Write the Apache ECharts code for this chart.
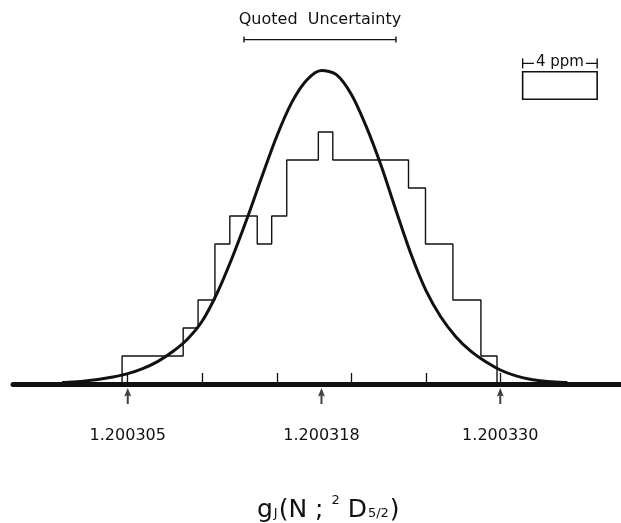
<!DOCTYPE html>
<html>
<head>
<meta charset="utf-8">
<script src="https://cdn.jsdelivr.net/npm/echarts@6/dist/echarts.min.js"></script>
<style>
  html, body { margin: 0; padding: 0; background: #fff; }
  #main { width: 621px; height: 523px; }
</style>
</head>
<body>
<div id="main"></div>
<script type="text/javascript">
    // x 单位: (g - 1.2003) * 1e6
    var histEdges = [4.62, 8.72, 9.72, 10.85, 11.85, 13.69, 14.66, 15.67, 17.79, 18.76, 23.84, 24.98, 26.82, 28.70, 29.78];
    var histCounts = [1, 2, 3, 5, 6, 5, 6, 8, 9, 8, 7, 5, 3, 1];

    // 拟合曲线
    var curveX = [0.6, 1, 2, 3, 4, 5, 6, 7, 8, 9, 10, 11, 12, 13, 14, 15, 16, 17, 18, 19, 20, 21, 22, 23, 24, 25, 26, 27, 28, 29, 30, 31, 32, 33, 34, 34.5];
    var curveY = [0.05, 0.06, 0.1, 0.16, 0.25, 0.37, 0.55, 0.8, 1.15, 1.6, 2.25, 3.25, 4.5, 5.9, 7.4, 8.85, 10.05, 10.85, 11.2, 11.05, 10.35, 9.2, 7.8, 6.2, 4.65, 3.35, 2.4, 1.7, 1.18, 0.8, 0.5, 0.3, 0.17, 0.1, 0.06, 0.05];

    var tickValues = [5, 10, 15, 20, 25, 30];
    var labelValues = [5, 18, 30];
    var tickLabels = ['1.200305', '1.200318', '1.200330'];
    var arrowValues = [5, 18, 30];

    var quotedRange = [12.8, 23.0];
    var quotedLevel = 12.3;
    var scaleBoxX = [31.5, 36.5];
    var scaleBoxY = [10.17, 11.15];
    var scaleBarLevel = 11.45;

    var ink = '#111';

    // 直方图轮廓
    var histLine = [[histEdges[0], 0]];
    for (var i = 0; i < histCounts.length; i++) {
        histLine.push([histEdges[i], histCounts[i]]);
        histLine.push([histEdges[i + 1], histCounts[i]]);
    }
    histLine.push([histEdges[histEdges.length - 1], 0]);

    var curveData = curveX.map(function (x, i) { return [x, curveY[i]]; });

    var myChart = echarts.init(document.getElementById('main'));

    function renderNotes(params, api) {
        var q0 = api.coord([quotedRange[0], quotedLevel]);
        var q1 = api.coord([quotedRange[1], quotedLevel]);
        var b0 = api.coord([scaleBoxX[0], scaleBoxY[1]]);
        var b1 = api.coord([scaleBoxX[1], scaleBoxY[0]]);
        var s0 = api.coord([scaleBoxX[0], scaleBarLevel]);
        var s1 = api.coord([scaleBoxX[1], scaleBarLevel]);
        var ls = { stroke: ink, lineWidth: 1.4 };
        return {
            type: 'group',
            children: [
                { type: 'line', shape: { x1: q0[0], y1: q0[1], x2: q1[0], y2: q1[1] }, style: ls },
                { type: 'line', shape: { x1: q0[0], y1: q0[1] - 3, x2: q0[0], y2: q0[1] + 3 }, style: ls },
                { type: 'line', shape: { x1: q1[0], y1: q1[1] - 3, x2: q1[0], y2: q1[1] + 3 }, style: ls },
                { type: 'text', style: { text: 'Quoted  Uncertainty', x: (q0[0] + q1[0]) / 2, y: q0[1] - 20,
                    align: 'center', verticalAlign: 'middle', font: '16px "DejaVu Sans"', fill: ink } },
                { type: 'rect', shape: { x: b0[0], y: b0[1], width: b1[0] - b0[0], height: b1[1] - b0[1] },
                    style: { fill: 'none', stroke: ink, lineWidth: 1.6 } },
                { type: 'line', shape: { x1: s0[0], y1: s0[1], x2: s1[0], y2: s1[1] }, style: ls },
                { type: 'line', shape: { x1: s0[0], y1: s0[1] - 5, x2: s0[0], y2: s0[1] + 5 }, style: ls },
                { type: 'line', shape: { x1: s1[0], y1: s1[1] - 5, x2: s1[0], y2: s1[1] + 5 }, style: ls },
                { type: 'text', style: { text: '4 ppm', x: (s0[0] + s1[0]) / 2, y: s0[1] - 1,
                    align: 'center', verticalAlign: 'middle', font: '15px "DejaVu Sans"', fill: ink,
                    backgroundColor: '#fff', padding: [0, 2] } }
            ]
        };
    }

    var option = {
        animation: false,
        backgroundColor: '#fff',
        title: {
            text: '{g|g}{s|J}{g|(N ; }{p|2}{g| D}{s|5/2}{g|)}',
            left: 252,
            top: 484,
            textStyle: {
                fontWeight: 'normal',
                rich: {
                    g: { fontSize: 25, fontFamily: 'DejaVu Sans', fontWeight: 'normal', color: ink, lineHeight: 34, verticalAlign: 'bottom' },
                    s: { fontSize: 13, fontFamily: 'DejaVu Sans', fontWeight: 'normal', color: ink, lineHeight: 34, verticalAlign: 'bottom', padding: [0, 1, 3, 1] },
                    p: { fontSize: 13, fontFamily: 'DejaVu Sans', fontWeight: 'normal', color: ink, lineHeight: 34, verticalAlign: 'top', padding: [5, 0, 0, 0] }
                }
            }
        },
        grid: { left: 13, right: 0, top: 20, bottom: 139 },
        xAxis: {
            type: 'value',
            min: -2.7,
            max: 38.1,
            axisLine: { show: true, lineStyle: { color: ink, width: 5 } },
            axisTick: { show: true, inside: true, length: 11, customValues: tickValues, lineStyle: { color: ink, width: 1.3 } },
            axisLabel: {
                customValues: labelValues,
                margin: 44,
                fontSize: 16,
                fontFamily: 'DejaVu Sans',
                color: ink,
                formatter: function (v) { return tickLabels[labelValues.indexOf(v)]; }
            },
            splitLine: { show: false }
        },
        yAxis: {
            type: 'value', min: 0, max: 13, show: false
        },
        series: [
            {
                name: 'histogram', type: 'line', data: histLine, showSymbol: false, silent: true,
                lineStyle: { color: ink, width: 1.4 }, z: 3
            },
            {
                name: 'fit', type: 'line', data: curveData, showSymbol: false, silent: true,
                smooth: 0.3,
                lineStyle: { color: ink, width: 3 }, z: 4
            },
            {
                name: 'arrows', type: 'scatter', clip: false, silent: true,
                data: arrowValues.map(function (v) { return [v, 0]; }),
                symbol: 'path://M4,0L7.5,8.5L5,7.5L5,16L3,16L3,7.5L0.5,8.5Z',
                symbolSize: [7, 16], symbolOffset: [0, 12],
                itemStyle: { color: ink }, z: 5
            },
            {
                name: 'notes', type: 'custom', silent: true, clip: false,
                data: [[0, 0]], renderItem: renderNotes, z: 5
            }
        ]
    };

    myChart.setOption(option);
</script>
</body>
</html>
